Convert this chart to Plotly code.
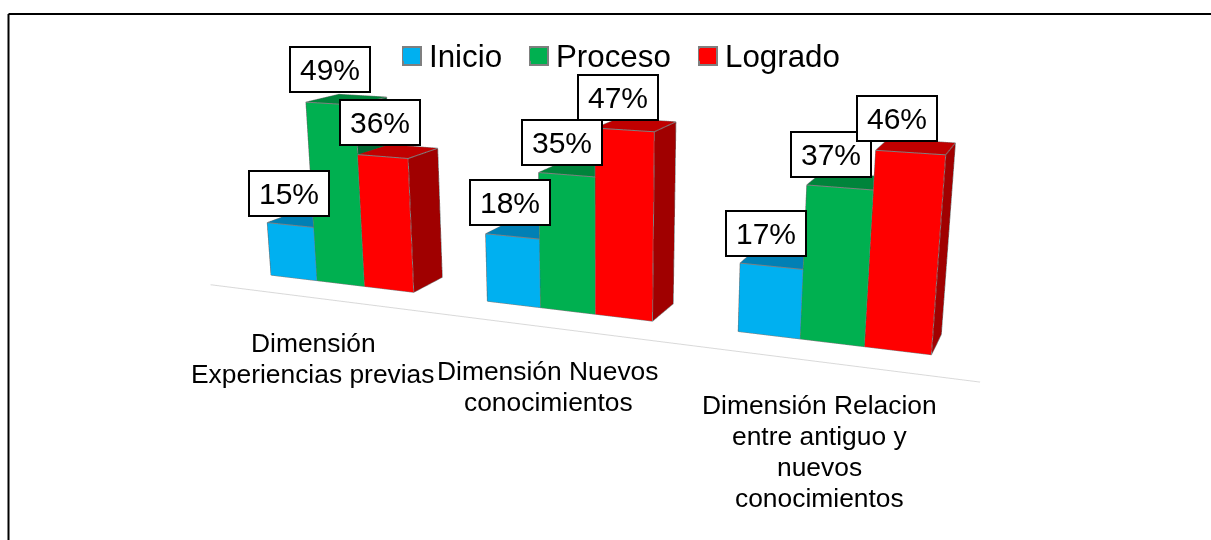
import plotly.graph_objects as go

categories = [["Dimensión", "Experiencias previas"], ["Dimensión Nuevos", "conocimientos"],
              ["Dimensión Relacion", "entre antiguo y", "nuevos", "conocimientos"]]
series_names = ["Inicio", "Proceso", "Logrado"]
inicio = [15, 18, 17]
proceso = [49, 35, 37]
logrado = [36, 47, 46]
series_values = [inicio, proceso, logrado]

front_colors = ["#00B0F0", "#00B050", "#FF0000"]
top_colors = ["#0080B5", "#00843B", "#C00000"]
side_colors = ["#006C96", "#006A32", "#A00000"]
label_xshift = [[-1.5, -2, -5.5], [0, -4.5, -8.5], [-2.5, -6.5, -13.5]]
label_yshift = [[31.5, 34, 33], [34, 32, 32.5], [34.5, 32, 34]]
bar_w = 0.225
depth = 0.126
depth_dx = 0.065    # lateral run of the bars' depth edges
depth_dz = 3.0      # rise of the bars' depth edges
floor_slope = 5.0   # drop of the floor per category
W, H = 1211, 540


def gx(x, f):
    return x + f * depth_dx


def gy(f):
    return f * depth


def gz(x, f, v):
    return v - floor_slope * (x - 1) + f * depth_dz


fig = go.Figure()
annots = []
legend_ids = ["legend", "legend2", "legend3"]
for s, (name, vals) in enumerate(zip(series_names, series_values)):
    for c, v in enumerate(vals):
        x0 = c + (s - 1.5) * bar_w
        x1 = x0 + bar_w
        corners = [(x0, 0, 0), (x1, 0, 0), (x1, 1, 0), (x0, 1, 0), (x0, 0, v), (x1, 0, v), (x1, 1, v), (x0, 1, v)]
        xs = [gx(a, f) for a, f, h in corners]
        ys = [gy(f) for a, f, h in corners]
        zs = [gz(a, f, h) for a, f, h in corners]
        fig.add_trace(go.Mesh3d(x=xs, y=ys, z=zs,
                                i=[0, 0, 1, 1, 4, 4, 3, 3], j=[1, 5, 2, 6, 5, 6, 7, 4], k=[5, 4, 6, 5, 6, 7, 4, 0],
                                facecolor=[front_colors[s]] * 2 + [side_colors[s]] * 2 + [top_colors[s]] * 2 + [side_colors[s]] * 2,
                                flatshading=True, showlegend=False, hoverinfo="skip",
                                lighting=dict(ambient=1, diffuse=0, specular=0, roughness=1, fresnel=0)))
        path = [0, 1, 5, 4, 0, None, 4, 7, 6, 5, None, 1, 2, 6]
        ex = [None if p is None else xs[p] for p in path]
        ey = [None if p is None else ys[p] for p in path]
        ez = [None if p is None else zs[p] for p in path]
        fig.add_trace(go.Scatter3d(x=ex, y=ey, z=ez, mode="lines", line=dict(color="#7f7f7f", width=2),
                                   showlegend=False, hoverinfo="skip"))
        annots.append(dict(x=gx((x0 + x1) / 2, 0), y=0, z=gz((x0 + x1) / 2, 0, v), text=f"{v}%", showarrow=False,
                           xshift=label_xshift[s][c], yshift=label_yshift[s][c],
                           width=78, height=43, bgcolor="white", bordercolor="black", borderwidth=2, borderpad=0,
                           font=dict(family="Liberation Sans", size=30, color="black")))
    fig.add_trace(go.Scatter3d(x=[None], y=[None], z=[None], mode="markers", name=name, legend=legend_ids[s],
                               marker=dict(symbol="square", size=12, color=front_colors[s], line=dict(color=front_colors[s], width=0))))

floor_x = [-0.48, 2.52]
floor_f = -0.9
fig.add_trace(go.Scatter3d(x=[gx(a, floor_f) for a in floor_x], y=[gy(floor_f)] * 2, z=[gz(a, floor_f, 0) for a in floor_x],
                           mode="lines", line=dict(color="#D9D9D9", width=2), showlegend=False, hoverinfo="skip"))

ax_off = dict(visible=False, showgrid=False, zeroline=False, showticklabels=False, title="")
cat_centers = [313, 548, 819]
cat_tops = [343, 371, 405]
line_step = 31
cat_annots = []
for cat, cx, cy in zip(categories, cat_centers, cat_tops):
    for n, line in enumerate(cat):
        cat_annots.append(dict(x=cx / W, y=1 - (cy + n * line_step) / H, xref="paper", yref="paper", text=line,
                               xanchor="center", yanchor="middle",
                               showarrow=False, font=dict(size=26.4), align="center"))

legend_lefts = [389, 516, 685]
legend_style = dict(orientation="h", xanchor="left", y=1 - 55 / H, yanchor="middle", font=dict(size=31.3),
                    itemsizing="constant", bgcolor="rgba(0,0,0,0)")
swatch_lefts = [403, 530, 699]
swatches = [dict(type="rect", xref="paper", yref="paper", x0=a / W, x1=(a + 18) / W, y0=1 - 65 / H, y1=1 - 47 / H,
                 fillcolor=col, line=dict(color="#7f7f7f", width=2))
            for a, col in zip(swatch_lefts, front_colors)]

fig.update_layout(
    width=W, height=H,
    margin=dict(l=0, r=0, t=0, b=0), paper_bgcolor="white",
    font=dict(family="Liberation Sans", color="black"),
    scene=dict(
        domain=dict(x=[0, 1], y=[0, 1]),
        xaxis=dict(range=[-0.8, 2.8], **ax_off), yaxis=dict(range=[-0.3, 0.6], **ax_off), zaxis=dict(range=[-15, 70], **ax_off),
        aspectmode="manual", aspectratio=dict(x=2.28, y=0.6, z=0.82),
        camera=dict(eye=dict(x=0.4255, y=-1.649, z=0.064), center=dict(x=0.0965, y=-0.1, z=-0.159), up=dict(x=0, y=0, z=1)),
        annotations=annots,
    ),
    legend=dict(x=legend_lefts[0] / W, **legend_style),
    legend2=dict(x=legend_lefts[1] / W, **legend_style),
    legend3=dict(x=legend_lefts[2] / W, **legend_style),
    shapes=[dict(type="line", xref="paper", yref="paper", x0=8.5 / W, x1=1, y0=1 - 14 / H, y1=1 - 14 / H, line=dict(color="black", width=2)),
            dict(type="line", xref="paper", yref="paper", x0=8.5 / W, x1=8.5 / W, y0=0, y1=1 - 14 / H, line=dict(color="black", width=2))] + swatches,
    annotations=cat_annots,
)
fig.write_html("out.html", config=dict(displayModeBar=False), post_script="document.body.style.margin='0';")
